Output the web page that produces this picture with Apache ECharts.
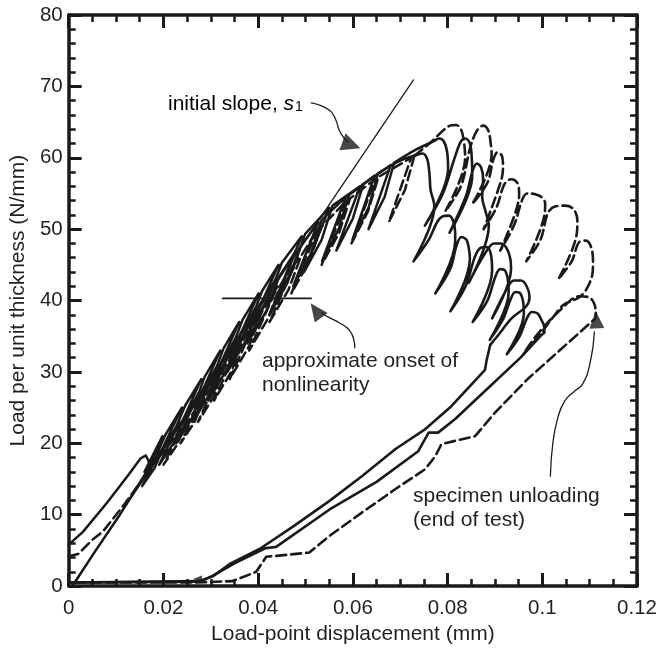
<!DOCTYPE html>
<html><head><meta charset="utf-8">
<script src="https://cdn.jsdelivr.net/npm/echarts@6/dist/echarts.min.js"></script>
<style>html,body{margin:0;padding:0;background:#fff}#c{width:660px;height:650px}</style>
</head><body><div id="c"></div>
<script>
// ---- data (x: load-point displacement in mm, y: load per unit thickness in N/mm) ----
// Specimen A (solid) : loading with unload/reload cycles, post-peak loops, final unloading
const loadA = [
 [0,5.8],[0.003,7.6],[0.008,11.6],[0.0124,15.4],[0.0152,17.9],[0.0163,18.3],[0.0168,17.6],[0.0172,16.6],
 [0.0198,21],[0.0160,16],[0.0186,18.5],[0.0205,21.3],
 [0.0239,25],[0.0196,19],[0.0225,22],[0.0246,25.3],
 [0.0280,29],[0.0233,22],[0.0266,25.5],[0.0287,29.3],
 [0.0320,33],[0.0267,25],[0.0303,29],[0.0327,33.3],
 [0.0360,37],[0.0300,28],[0.0340,32.5],[0.0367,37.3],
 [0.0401,41],[0.0341,32],[0.0381,36.5],[0.0408,41.3],
 [0.0443,45],[0.0383,36],[0.0423,40.5],[0.0450,45.3],
 [0.0492,49],[0.0436,40],[0.0474,44.5],[0.0499,49.3],
 [0.0550,53],[0.0497,44],[0.0534,48.5],[0.0557,53.3],
 [0.0615,56],[0.0565,47],[0.0600,51.5],[0.0622,56.3],
 [0.0680,59],[0.0633,50],[0.0667,54.5],[0.0687,59.3]
];
const postA = [
 [0.0687,59.3],[0.0735,61.2],[0.0770,62.3],[0.0782,62.7],[0.0792,62.3],[0.0799,60.8],[0.0801,58.5],
 [0.0752,50.5],[0.0790,55],[0.0815,60],[0.0828,62.3],[0.0837,62.7],[0.0847,62],[0.0851,60],[0.0852,57.5],
 [0.0804,49.5],[0.0838,54.5],[0.0853,58.2],[0.0862,59.2],[0.0871,58.6],[0.0875,57],[0.0873,54.5],[0.0880,52.5],[0.0887,50.5],
 [0.0845,42.5],[0.0878,46.5],[0.0898,48],[0.0912,48],[0.0924,47.4],[0.0932,46],[0.0934,44.5],
 [0.0894,37.5],[0.0924,41.5],[0.0940,42.8],[0.0955,42.8],[0.0967,42],[0.0973,40.5],[0.0966,39.2],
 [0.0935,37.5],[0.0905,35],[0.0890,33.8]
];
const unloadA = [
 [0.0890,33.8],[0.0882,31.5],[0.0879,30.3],[0.0808,25.2],[0.0753,22],[0.069,19.2],[0.0619,15.4],[0.055,11.9],
 [0.0475,8.4],[0.0403,5.2],[0.034,3.1],[0.0305,1.4],[0.0277,0.7],[0.0005,0.5]
];
// Specimen B (solid)
const loadB = [
 [0.0008,0],[0.0055,4.8],[0.0108,10],[0.0155,15],
 [0.0193,19],[0.0155,14],[0.0181,16.5],[0.0199,19.3],
 [0.0234,23],[0.0191,17],[0.0221,20],[0.0241,23.3],
 [0.0274,27],[0.0227,20],[0.0260,23.5],[0.0281,27.3],
 [0.0315,31],[0.0262,23],[0.0298,27],[0.0322,31.3],
 [0.0355,35],[0.0295,26],[0.0335,30.5],[0.0362,35.3],
 [0.0395,39],[0.0335,30],[0.0375,34.5],[0.0402,39.3],
 [0.0437,43],[0.0377,34],[0.0417,38.5],[0.0444,43.3],
 [0.0480,47],[0.0424,38],[0.0462,42.5],[0.0487,47.3],
 [0.0527,51],[0.0474,42],[0.0511,46.5],[0.0534,51.3],
 [0.0585,54.5],[0.0535,45.5],[0.0570,50],[0.0592,54.8],
 [0.0646,57.5],[0.0599,48.5],[0.0633,53],[0.0653,57.8]
];
const postB = [
 [0.0653,57.8],[0.0700,59.6],[0.0735,60.4],[0.0747,60.6],[0.0757,59.8],[0.0762,57.5],[0.0764,55.5],[0.0772,53.2],
 [0.0728,45.5],[0.0760,48.5],[0.0778,51],[0.0790,51.8],[0.0803,51.9],[0.0812,51.1],[0.0816,49.5],[0.0816,48.3],
 [0.0774,41],[0.0806,44.5],[0.0818,47.5],[0.0829,48.9],[0.0840,48.5],[0.0846,46.8],[0.0847,45.8],
 [0.0806,38.5],[0.0838,42],[0.0858,46.2],[0.0870,47.4],[0.0882,47.5],[0.0891,46.6],[0.0894,44.2],
 [0.0853,37],[0.0884,40],[0.0900,43.2],[0.0911,44.4],[0.0921,44.2],[0.0927,43],[0.0929,41.2],
 [0.0889,34.5],[0.0918,37.5],[0.0933,40.2],[0.0943,41.2],[0.0952,41.1],[0.0959,40],[0.0961,38.2],
 [0.0925,32.5],[0.0952,35],[0.0968,37.6],[0.0978,38.4],[0.0990,38.2],[0.0998,37.3],[0.1004,36.3],[0.1004,35.5]
];
const unloadB = [
 [0.1004,35.5],[0.0997,35.1],[0.0954,32],[0.0880,27.4],[0.0816,23.4],[0.0780,21.5],[0.0760,21.5],[0.0738,18.9],
 [0.0650,14.6],[0.0550,10.7],[0.0438,5.5],[0.0415,5.3],[0.0350,3.2],[0.0300,1.3],[0.0275,0.6],[0.0005,0.5]
];
// Specimen C (dashed)
const loadC = [
 [0,4.2],[0.002,4.5],[0.0052,6.6],[0.0073,7.7],[0.0118,11.5],[0.0178,17],
 [0.0238,22],[0.0200,17],[0.0226,19.5],[0.0245,22.3],
 [0.0279,26],[0.0236,20],[0.0266,23],[0.0286,26.3],
 [0.0320,30],[0.0273,23],[0.0306,26.5],[0.0327,30.3],
 [0.0360,34],[0.0307,26],[0.0343,30],[0.0367,34.3],
 [0.0400,38],[0.0340,29],[0.0380,33.5],[0.0407,38.3],
 [0.0441,42],[0.0381,33],[0.0421,37.5],[0.0448,42.3],
 [0.0484,46],[0.0424,37],[0.0464,41.5],[0.0491,46.3],
 [0.0526,50],[0.0470,41],[0.0508,45.5],[0.0533,50.3],
 [0.0587,54],[0.0534,45],[0.0571,49.5],[0.0594,54.3],
 [0.0647,57],[0.0597,48],[0.0632,52.5],[0.0654,57.3],
 [0.0723,60],[0.0676,51],[0.0710,55.5],[0.0730,60.3]
];
const postC = [
 [0.0730,60.3],[0.0765,62.2],[0.0790,63.8],[0.0805,64.5],[0.0818,64.6],[0.0828,64],[0.0834,62.5],[0.0837,60],
 [0.0795,52.5],[0.0828,56],[0.0848,61.5],[0.0862,63.8],[0.0875,64.5],[0.0886,63.8],[0.0891,62],[0.0893,60.5],
 [0.0852,53.5],[0.0884,56.5],[0.0897,59.8],[0.0906,60.8],[0.0915,60.2],[0.0917,58.8],[0.0913,56.8],
 [0.0876,50],[0.0903,53],[0.0920,56.3],[0.0934,57],[0.0947,56.5],[0.0951,55],[0.0950,54],
 [0.0911,47],[0.0940,50.5],[0.0958,54.2],[0.0968,55],[0.0985,54.9],[0.0998,54.5],[0.1006,53.6],[0.1005,52.2],
 [0.0966,45.5],[0.0996,48.5],[0.1012,52.3],[0.1028,53.2],[0.1048,53.3],[0.1066,52.8],[0.1074,51.2],[0.1073,49.5],
 [0.1034,43],[0.1062,45.5],[0.1078,48.2],[0.1092,48.4],[0.1103,47.5],[0.1107,45.5],[0.1106,43.8],[0.1098,42.2],
 [0.1088,41.1],[0.1074,40.3],[0.1045,39.4],[0.1022,37.6],[0.0992,35],[0.0960,32.5],
 [0.0990,35.3],[0.1040,38.8],[0.1078,40.6],[0.1100,40.4],[0.1110,39.5],[0.1113,38.3]
];
const unloadC = [
 [0.1113,38.3],[0.1112,37.5],[0.1038,33.1],[0.0969,29],[0.0900,24.3],[0.0858,21],[0.0787,19.9],[0.0774,18.2],
 [0.0753,16.4],[0.0690,13.6],[0.0619,10.3],[0.0550,7],[0.0508,4.7],[0.0417,4.1],[0.0396,2],[0.0346,0.7],
 [0.0270,0.5],[0.0005,0.5]
];
// annotations
const slopeLine = [[0.0006,0],[0.0728,70.9]];
const onsetLine = [[0.0325,40.3],[0.0512,40.3]];
const slopeArrow = [[0.0512,67.7],[0.0550,66.7],[0.0564,65.3],[0.0571,63.9],[0.0581,62.8],[0.0590,62.2]];
const onsetArrow = [[0.0604,33.4],[0.0602,34.5],[0.0592,35.9],[0.0571,36.9],[0.0545,37.8],[0.0535,38.3]];
const unloadArrow = [[0.1017,15.4],[0.1022,19.9],[0.1032,23.4],[0.1047,25.9],[0.1068,27.3],[0.1085,28.3],[0.1101,31.3],[0.1110,35.6]];
const arrowHeads = [[0.0597,61.8],[0.0522,38.6],[0.1114,37.3],[0.0272,1.0]];

// ---- styling ----
const INK = '#1a1a1a';
const TXT = '#231f20';
const FONT = '"Liberation Sans", Arial, Helvetica, sans-serif';
const headRotate = [-110, 36, 3, 90];
const headSize = [[18,19],[16,18],[15,17],[7,9]];
const DASH = [10,5];

function xAx(pos, withLabel){
  return {
    type:'value', min:0, max:0.12, interval:0.02, position:pos,
    name: withLabel ? 'Load-point displacement (mm)' : '',
    nameLocation:'middle', nameGap:36,
    nameTextStyle:{fontSize:21, color:TXT, fontFamily:FONT},
    axisLine:{show:true, onZero:false, lineStyle:{color:INK, width:3.5}},
    axisTick:{show:true, inside:true, length:13, lineStyle:{color:INK, width:3}},
    minorTick:{show:true, splitNumber:4, length:7, lineStyle:{color:INK, width:2.5}},
    axisLabel:{show:withLabel, fontSize:20.5, color:TXT, fontFamily:FONT, margin:12},
    splitLine:{show:false}, minorSplitLine:{show:false}
  };
}
function yAx(pos, withLabel){
  return {
    type:'value', min:0, max:80, interval:10, position:pos,
    name: withLabel ? 'Load per unit thickness (N/mm)' : '',
    nameLocation:'middle', nameGap:36,
    nameTextStyle:{fontSize:21, color:TXT, fontFamily:FONT},
    axisLine:{show:true, onZero:false, lineStyle:{color:INK, width:3.5}},
    axisTick:{show:true, inside:true, length:13, lineStyle:{color:INK, width:3}},
    minorTick:{show:true, splitNumber:5, length:7, lineStyle:{color:INK, width:2.5}},
    axisLabel:{show:withLabel, fontSize:20.5, color:TXT, fontFamily:FONT, margin:6},
    splitLine:{show:false}, minorSplitLine:{show:false}
  };
}
function curve(data, width, dash, smooth){
  return {type:'line', data:data, showSymbol:false, symbol:'none', smooth:smooth || false,
    lineStyle:{color:INK, width:width, type: dash || 'solid', cap:'round', join:'round'}, z:3};
}

const option = {
  animation:false,
  backgroundColor:'#ffffff',
  grid:{left:68, top:15, width:572, height:572, containLabel:false},
  xAxis:[xAx('bottom', true), xAx('top', false)],
  yAxis:[yAx('left', true), yAx('right', false)],
  series:[
    curve(loadA, 2.5), curve(postA, 2.6, null, 0.35), curve(unloadA, 2.6),
    curve(loadB, 2.5), curve(postB, 2.6, null, 0.35), curve(unloadB, 2.6),
    curve(loadC, 2.5, DASH), curve(postC, 2.6, DASH, 0.35), curve(unloadC, 2.6, DASH),
    curve(slopeLine, 1.3),
    curve(onsetLine, 1.6),
    curve(slopeArrow, 1.3, null, true),
    curve(onsetArrow, 1.3, null, true),
    curve(unloadArrow, 1.3, null, true),
    {type:'scatter', symbol:'triangle', z:4,
     data: arrowHeads.map((p,i)=>({value:p, symbolRotate:headRotate[i], symbolSize:headSize[i]})),
     itemStyle:{color:INK}}
  ],
  graphic:[
    {type:'text', x:168, y:104, style:{
      text:'{n|initial slope, }{i|s}{s|1}', verticalAlign:'middle', textVerticalAlign:'middle',
      rich:{
        n:{fontSize:21, fontFamily:FONT, color:TXT, verticalAlign:'top', lineHeight:21},
        i:{fontSize:21, fontFamily:FONT, color:TXT, fontStyle:'italic', verticalAlign:'top', lineHeight:21},
        s:{fontSize:14, fontFamily:FONT, color:TXT, verticalAlign:'bottom', lineHeight:14, padding:[10,0,0,1]}
      }}},
    {type:'text', x:262, y:361, style:{text:'approximate onset of', fontSize:21, fontFamily:FONT, fill:TXT, verticalAlign:'middle', textVerticalAlign:'middle'}},
    {type:'text', x:262, y:385, style:{text:'nonlinearity', fontSize:21, fontFamily:FONT, fill:TXT, verticalAlign:'middle', textVerticalAlign:'middle'}},
    {type:'text', x:413, y:496, style:{text:'specimen unloading', fontSize:21, fontFamily:FONT, fill:TXT, verticalAlign:'middle', textVerticalAlign:'middle'}},
    {type:'text', x:413, y:520, style:{text:'(end of test)', fontSize:21, fontFamily:FONT, fill:TXT, verticalAlign:'middle', textVerticalAlign:'middle'}}
  ]
};
const chart = echarts.init(document.getElementById('c'));
chart.setOption(option);
</script></body></html>
